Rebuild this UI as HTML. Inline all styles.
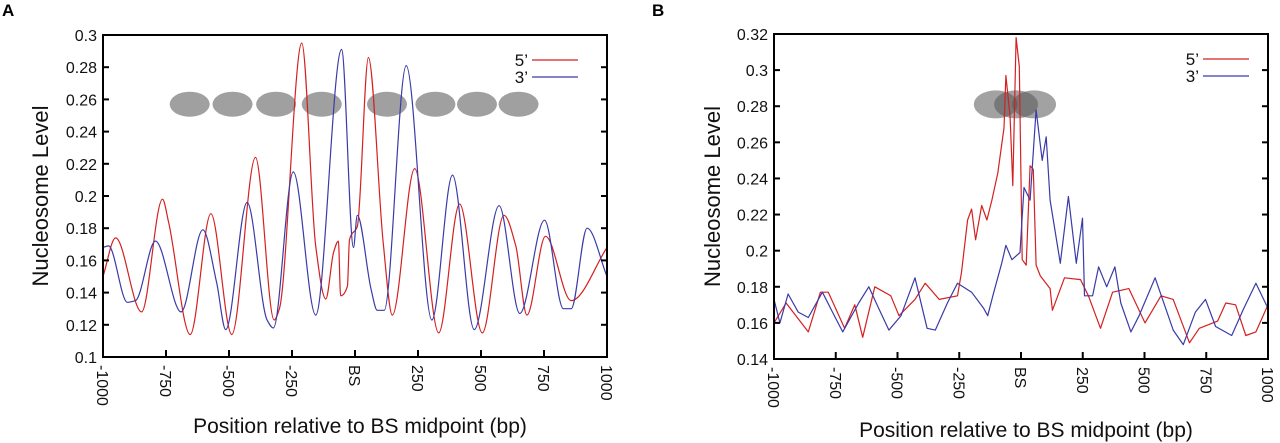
<!DOCTYPE html>
<html><head><meta charset="utf-8">
<style>
body{margin:0;background:#fff;}
svg{display:block;font-family:"Liberation Sans",sans-serif;}
</style></head>
<body>
<svg id="chart" width="1280" height="443" viewBox="0 0 1280 443">
<text x="2" y="16" font-size="17" font-weight="bold">A</text>
<text x="652" y="16" font-size="17" font-weight="bold">B</text>
</svg>
<script>
// Panel A data
const aRedX=[-1000,-950,-847,-764,-740,-654,-572,-489,-395,-321,-300,-211,-156,-116,-85,-66,-57,-30,-22,9,53,112,148,237,332,415,505,591,638,682,756,858,1000];
const aRedY=[0.150,0.174,0.128,0.198,0.184,0.114,0.189,0.114,0.224,0.123,0.130,0.295,0.169,0.136,0.165,0.172,0.138,0.144,0.173,0.181,0.286,0.171,0.126,0.217,0.115,0.195,0.115,0.188,0.169,0.126,0.175,0.135,0.168];
const aBlueX=[-1000,-978,-903,-871,-792,-690,-604,-549,-513,-428,-349,-324,-245,-156,-53,-6,9,64,88,116,203,305,387,473,572,654,752,827,858,921,1000];
const aBlueY=[0.168,0.169,0.134,0.135,0.172,0.128,0.179,0.146,0.117,0.196,0.123,0.118,0.215,0.126,0.291,0.168,0.188,0.142,0.129,0.129,0.281,0.123,0.213,0.117,0.194,0.127,0.185,0.130,0.130,0.180,0.150];
const aNucX=[-656,-486,-313,-132,127,319,484,649];
const aYTicks=[0.1,0.12,0.14,0.16,0.18,0.2,0.22,0.24,0.26,0.28,0.3];
const aYLabels=["0.1","0.12","0.14","0.16","0.18","0.2","0.22","0.24","0.26","0.28","0.3"];
// Panel B data
const bRedX=[-1000,-951,-861,-812,-780,-714,-673,-641,-592,-527,-494,-429,-388,-331,-257,-241,-216,-200,-184,-159,-138,-118,-94,-69,-61,-44,-33,-20,-7,5,21,37,50,61,78,118,127,176,241,273,322,371,437,502,567,616,682,722,796,829,869,910,951,1000];
const bRedY=[0.160,0.171,0.155,0.177,0.177,0.157,0.170,0.152,0.180,0.175,0.164,0.173,0.182,0.173,0.175,0.188,0.217,0.223,0.206,0.225,0.217,0.228,0.243,0.268,0.297,0.274,0.236,0.318,0.302,0.195,0.192,0.247,0.245,0.192,0.186,0.179,0.167,0.185,0.184,0.175,0.157,0.177,0.179,0.160,0.175,0.173,0.149,0.157,0.161,0.171,0.170,0.153,0.155,0.170];
const bBlueX=[-1000,-976,-943,-902,-861,-804,-763,-722,-657,-616,-576,-535,-486,-429,-380,-347,-298,-257,-200,-151,-135,-110,-78,-61,-37,-4,12,37,61,86,102,118,159,192,224,249,257,290,314,347,380,404,445,478,543,616,657,706,747,788,853,902,951,1000];
const bBlueY=[0.173,0.160,0.176,0.166,0.163,0.177,0.166,0.155,0.171,0.180,0.168,0.156,0.164,0.185,0.157,0.156,0.171,0.182,0.177,0.168,0.164,0.177,0.193,0.203,0.195,0.199,0.235,0.228,0.278,0.250,0.263,0.228,0.193,0.230,0.193,0.218,0.175,0.175,0.191,0.180,0.191,0.171,0.155,0.164,0.185,0.156,0.148,0.166,0.173,0.158,0.153,0.168,0.182,0.168];
const bNucX=[-102,-20,53];
const bYTicks=[0.14,0.16,0.18,0.2,0.22,0.24,0.26,0.28,0.3,0.32];
const bYLabels=["0.14","0.16","0.18","0.2","0.22","0.24","0.26","0.28","0.3","0.32"];
const xTicks=[-1000,-750,-500,-250,0,250,500,750,1000];
const xLabels=["-1000","-750","-500","-250","BS","250","500","750","1000"];

const NS="http://www.w3.org/2000/svg";
const svg=document.getElementById('chart');
function mk(tag,attrs,parent){const e=document.createElementNS(NS,tag);for(const k in attrs)e.setAttribute(k,attrs[k]);(parent||svg).appendChild(e);return e;}

// monotone cubic (no overshoot)
function monoPath(pts){
  const n=pts.length, dx=[], s=[], m=[];
  for(let i=0;i<n-1;i++){dx[i]=pts[i+1][0]-pts[i][0];s[i]=(pts[i+1][1]-pts[i][1])/dx[i];}
  m[0]=s[0]; m[n-1]=s[n-2];
  for(let i=1;i<n-1;i++){
    if(s[i-1]*s[i]<=0) m[i]=0;
    else { const w1=2*dx[i]+dx[i-1], w2=dx[i]+2*dx[i-1]; m[i]=(w1+w2)/(w1/s[i-1]+w2/s[i]); }
  }
  let d='M'+pts[0][0].toFixed(1)+','+pts[0][1].toFixed(1);
  for(let i=0;i<n-1;i++){
    const h=dx[i]/3;
    d+=`C${(pts[i][0]+h).toFixed(1)},${(pts[i][1]+m[i]*h).toFixed(1)} ${(pts[i+1][0]-h).toFixed(1)},${(pts[i+1][1]-m[i+1]*h).toFixed(1)} ${pts[i+1][0].toFixed(1)},${pts[i+1][1].toFixed(1)}`;
  }
  return d;
}

function panel(p,id){
  const g=mk('g',{});
  
  
  const sx=v=>p.x0+(v+1000)/2000*(p.x1-p.x0);
  const sy=v=>p.y1-(v-p.ymin)/(p.ymax-p.ymin)*(p.y1-p.y0);
  p.nucX.forEach((n,i)=>{
    const e=mk('ellipse',{cx:sx(n),cy:sy(p.nucY),rx:p.rx,ry:p.ry,fill:p.nucFill,'fill-opacity':p.nucOp},g);
    
    
  });
  [[p.rx_,p.ry_,'#d42020','series-5prime'],[p.bx_,p.by_,'#3a3aa8','series-3prime']].forEach(s=>{
    const pts=s[0].map((x,i)=>[sx(x),sy(s[1][i])]);
    const d=p.smooth?monoPath(pts):pts.map((q,i)=>(i?'L':'M')+q[0].toFixed(1)+','+q[1].toFixed(1)).join('');
    const l=mk('path',{d:d,fill:'none',stroke:s[2],'stroke-width':1.2,'stroke-linejoin':'round'},g);
    
    
  });
  const fr=mk('rect',{x:p.x0,y:p.y0,width:p.x1-p.x0,height:p.y1-p.y0,fill:'none',stroke:'#000','stroke-width':2},g);
  
  
  p.yt.forEach((t,i)=>{
    const y=sy(t);
    mk('line',{x1:p.x0,x2:p.x0+6,y1:y,y2:y,stroke:'#000','stroke-width':2},g);
    mk('line',{x1:p.x1,x2:p.x1-6,y1:y,y2:y,stroke:'#000','stroke-width':2},g);
    const tx=mk('text',{x:p.x0-6,y:y+6,'font-size':16,'text-anchor':'end',fill:'#111'},g);
    tx.textContent=p.yl[i];
    
    
  });
  xTicks.forEach((t,i)=>{
    const x=sx(t);
    mk('line',{x1:x,x2:x,y1:p.y1,y2:p.y1-7,stroke:'#000','stroke-width':2},g);
    const tx=mk('text',{x:0,y:0,'font-size':16,transform:`translate(${x-6},${p.y1+8}) rotate(90)`,fill:'#111'},g);
    tx.textContent=xLabels[i];
    
    
  });
  const xt=mk('text',{x:(p.x0+p.x1)/2+5,y:p.xtY,'font-size':21,'text-anchor':'middle',fill:'#111'},g);
  xt.textContent='Position relative to BS midpoint (bp)';
  
  
  const yt=mk('text',{x:0,y:0,'font-size':22,'text-anchor':'middle',fill:'#111',transform:`translate(${p.ytX},${(p.y0+p.y1)/2}) rotate(-90)`},g);
  yt.textContent='Nucleosome Level';
  
  
  [['5\u2019','#d42020',p.legY],['3\u2019','#3a3aa8',p.legY+17]].forEach((L,i)=>{
    const lt=mk('text',{x:p.legX-4,y:L[2]+6,'font-size':17,'text-anchor':'end',fill:'#111'},g);
    lt.textContent=L[0];
    
    
    const ll=mk('line',{x1:p.legX,x2:p.legX+46,y1:L[2],y2:L[2],stroke:L[1],'stroke-width':1.3},g);
    
    
  });
}
panel({x0:103,x1:607,y0:35,y1:357,ymin:0.1,ymax:0.3,rx_:aRedX,ry_:aRedY,bx_:aBlueX,by_:aBlueY,smooth:true,
  nucX:aNucX,nucY:0.257,rx:20,ry:12.5,nucFill:'#a0a0a0',nucOp:1,yt:aYTicks,yl:aYLabels,
  xtY:433,ytX:48,legX:532,legY:60},'panel-a');
panel({x0:774,x1:1268,y0:34,y1:359,ymin:0.14,ymax:0.32,rx_:bRedX,ry_:bRedY,bx_:bBlueX,by_:bBlueY,smooth:false,
  nucX:bNucX,nucY:0.281,rx:22,ry:14,nucFill:'#555',nucOp:0.55,yt:bYTicks,yl:bYLabels,
  xtY:437,ytX:720,legX:1203,legY:59},'panel-b');
</script>
</body></html>
